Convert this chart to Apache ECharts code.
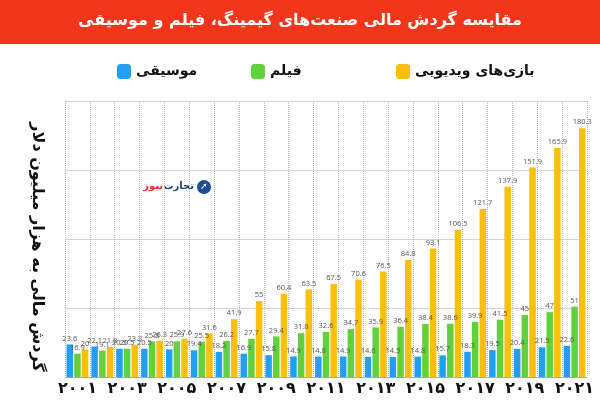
<!DOCTYPE html>
<html>
<head>
<meta charset="utf-8">
<script src="https://cdn.jsdelivr.net/npm/echarts@6/dist/echarts.min.js"></script>
<style>html,body{margin:0;padding:0;background:#fff}#c{width:600px;height:400px}</style>
</head>
<body>
<div id="c"></div>
<script>
var titleText = 'مقایسه گردش مالی صنعت‌های گیمینگ، فیلم و موسیقی';
var yAxisName = 'گردش مالی به هزار میلیون دلار';
var seriesNames = ['موسیقی', 'فیلم', 'بازی‌های ویدیویی'];
var categories = ['۲۰۰۱','۲۰۰۲','۲۰۰۳','۲۰۰۴','۲۰۰۵','۲۰۰۶','۲۰۰۷','۲۰۰۸','۲۰۰۹','۲۰۱۰','۲۰۱۱','۲۰۱۲','۲۰۱۳','۲۰۱۴','۲۰۱۵','۲۰۱۶','۲۰۱۷','۲۰۱۸','۲۰۱۹','۲۰۲۰','۲۰۲۱'];
var music = [23.6,22.1,20.5,20.5,20,19.4,18.2,16.9,15.8,14.9,14.8,14.9,14.6,14.5,14.8,15.7,18.3,19.5,20.4,21.5,22.6];
var film  = [16.9,19.1,20.5,25.8,25.9,25.5,26.2,27.7,29.4,31.8,32.6,34.7,35.9,36.4,38.4,38.6,39.9,41.5,45,47,51];
var games = [20,21.8,23.3,26.3,27.6,31.6,41.9,55,60.4,63.5,67.5,70.6,76.5,84.8,93.1,106.5,121.7,137.9,151.9,165.9,180.3];
var colors = ['#21a0f3', '#62d23c', '#fcbf0c'];

var chart = echarts.init(document.getElementById('c'), null, {renderer: 'canvas'});
var FONT = '"DejaVu Sans", sans-serif';
function mkSeries(name, data, color) {
  return {
    name: name, type: 'bar', data: data, barWidth: 6.5, barGap: '18%',
    itemStyle: {color: color},
    label: {show: true, position: 'top', distance: 2, fontSize: 7.5, color: '#555', fontFamily: '"Open Sans", sans-serif'}
  };
}
var legendBase = {
  top: 59, orient: 'horizontal', icon: 'roundRect', itemWidth: 14, itemHeight: 15, itemGap: 8,
  textStyle: {fontSize: 14, fontWeight: 'bold', color: '#111', fontFamily: FONT}
};
chart.setOption({
  backgroundColor: '#fff',
  animation: false,
  graphic: [
    {type: 'rect', left: 0, top: 0, shape: {width: 600, height: 44}, style: {fill: '#f2361b'}, z: -1},
    {type: 'circle', shape: {cx: 204, cy: 187, r: 7}, style: {fill: '#1b4f92'}},
    {type: 'text', x: 204, y: 187, style: {text: '➚', fill: '#fff', fontSize: 9, align: 'center', verticalAlign: 'middle'}},
    {type: 'text', x: 194, y: 186, style: {text: 'تجارت', fill: '#1b3f78', fontSize: 10, fontWeight: 'bold', fontFamily: FONT, align: 'right', verticalAlign: 'middle'}},
    {type: 'text', x: 163, y: 186, style: {text: 'نیوز', fill: '#e3302a', fontSize: 10, fontWeight: 'bold', fontFamily: FONT, align: 'right', verticalAlign: 'middle'}}
  ],
  title: {
    text: titleText, left: 'center', top: 8,
    textStyle: {color: '#fff', fontSize: 16, fontWeight: 'bold', fontFamily: FONT}
  },
  legend: [
    Object.assign({left: 112, data: [seriesNames[0]]}, legendBase),
    Object.assign({left: 246, data: [seriesNames[1]]}, legendBase),
    Object.assign({left: 391, data: [seriesNames[2]]}, legendBase)
  ],
  grid: {left: 65, right: 13, top: 101, bottom: 23, containLabel: false},
  xAxis: {
    type: 'category', data: categories,
    axisLine: {show: true, lineStyle: {color: '#aaa'}},
    axisTick: {show: false, interval: 0},
    splitLine: {show: true, interval: 0, lineStyle: {type: 'dotted', color: '#bbb'}},
    axisLabel: {interval: 1, margin: 4, fontSize: 16, fontWeight: 'bold', color: '#111', fontFamily: FONT}
  },
  yAxis: {
    type: 'value', min: 0, max: 200, interval: 50,
    name: yAxisName, nameLocation: 'middle', nameRotate: -90, nameGap: 20,
    nameTextStyle: {fontSize: 16, fontWeight: 'bold', color: '#111', fontFamily: FONT, padding: [0, 0, 0, 16]},
    axisLine: {show: false}, axisTick: {show: false}, axisLabel: {show: false},
    splitLine: {show: true, lineStyle: {color: '#d4d4d4', type: 'solid'}}
  },
  series: [
    mkSeries(seriesNames[0], music, colors[0]),
    mkSeries(seriesNames[1], film, colors[1]),
    mkSeries(seriesNames[2], games, colors[2])
  ]
});
</script>
</body>
</html>
